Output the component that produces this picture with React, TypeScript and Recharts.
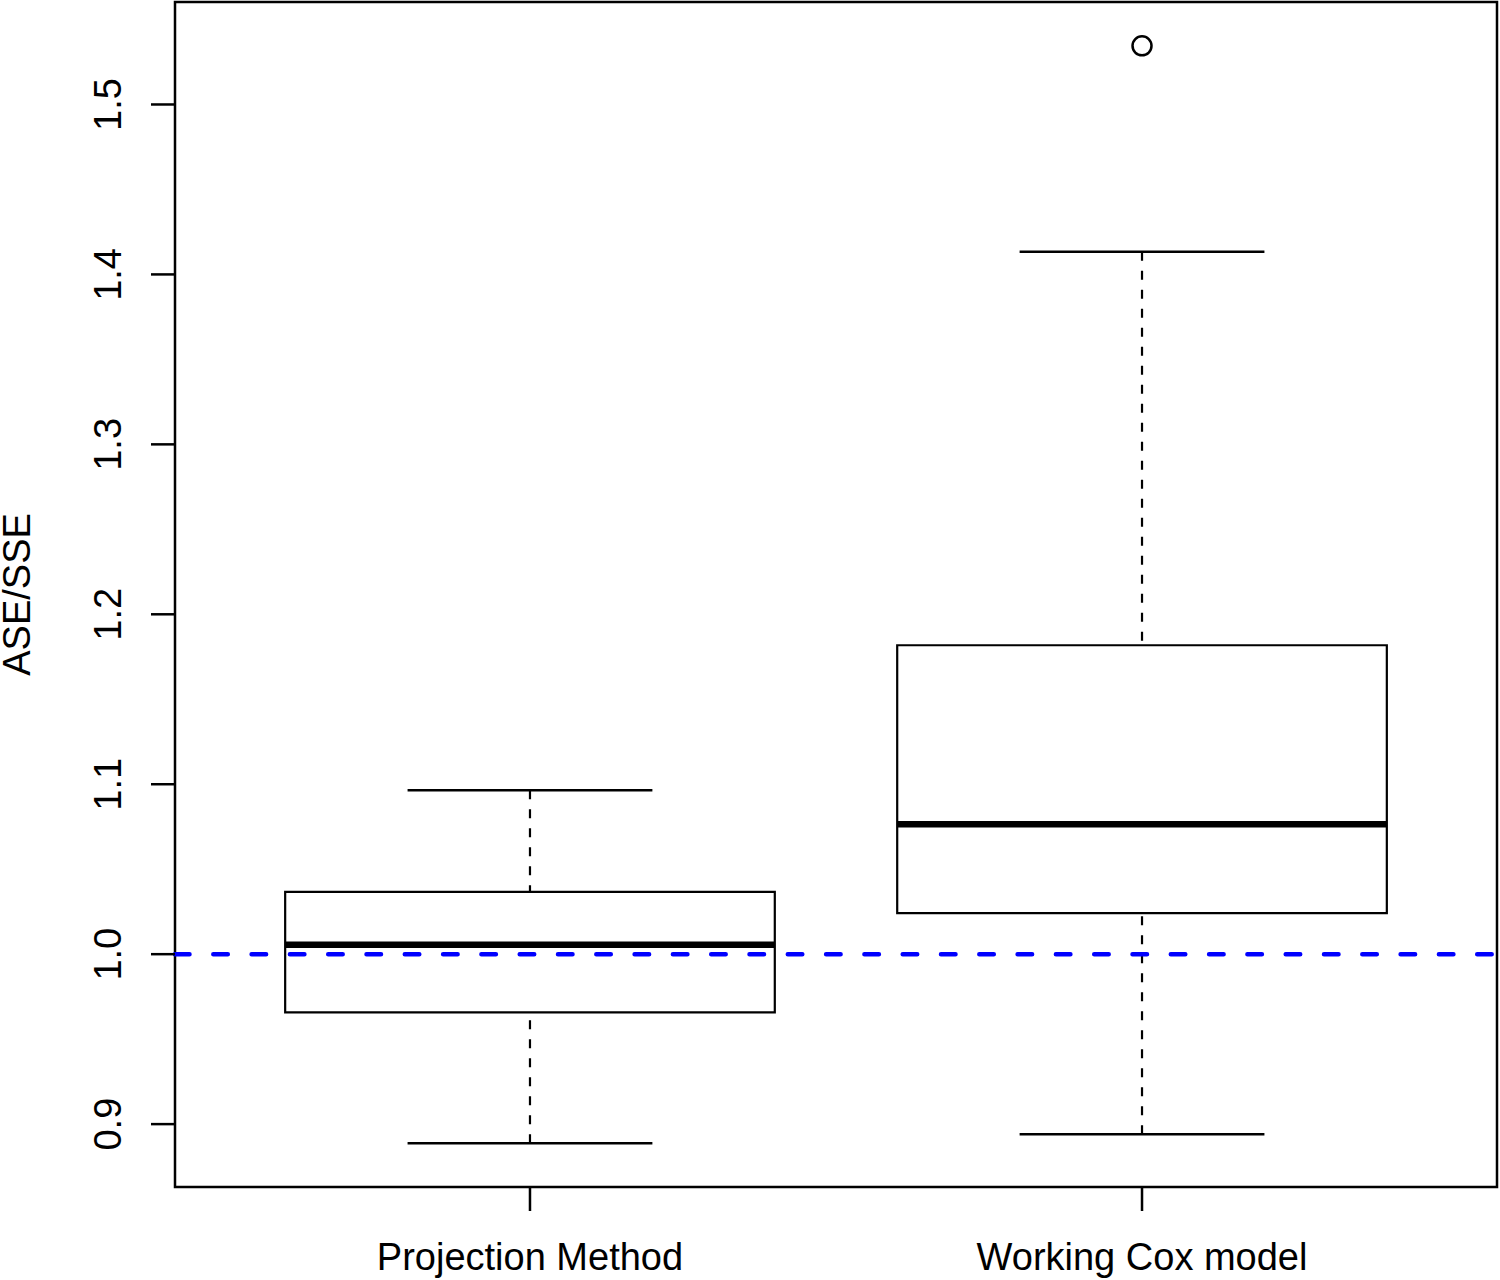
import React from "react";
import {
  ComposedChart,
  XAxis,
  YAxis,
  Scatter,
  ReferenceArea,
  ReferenceLine,
  Label,
} from "recharts";

const categories = ["Projection Method", "Working Cox model"];
const whiskerLow = [0.8888, 0.8941];
const lowerHinge = [0.9657, 1.0241];
const medians = [1.0056, 1.0765];
const upperHinge = [1.0367, 1.1818];
const whiskerHigh = [1.0965, 1.4133];
const outliers = [[], [1.5345]];
const yTicks = [0.9, 1.0, 1.1, 1.2, 1.3, 1.4, 1.5];

const xDomain: [number, number] = [0.42, 2.58];
const yDomain: [number, number] = [0.863, 1.5603];
const font = "'Liberation Sans', Arial, Helvetica, sans-serif";

const outlierPoints = outliers.flatMap((vals, i) =>
  vals.map((v) => ({ x: i + 1, y: v }))
);

const XTick = (props: any) => {
  const { x, y, payload } = props;
  return (
    <text
      x={x}
      y={y + 59}
      textAnchor="middle"
      fontSize={38}
      fontFamily={font}
      fill="#000"
    >
      {categories[payload.value - 1]}
    </text>
  );
};

const YTick = (props: any) => {
  const { x, y, payload } = props;
  const bx = x - 30;
  return (
    <text
      x={bx}
      y={y}
      transform={`rotate(-90 ${bx} ${y})`}
      textAnchor="middle"
      fontSize={38}
      fontFamily={font}
      fill="#000"
    >
      {payload.value.toFixed(1)}
    </text>
  );
};

const YLabel = (props: any) => {
  const { viewBox } = props;
  const cy = viewBox.y + viewBox.height / 2;
  return (
    <text
      x={30}
      y={cy}
      transform={`rotate(-90 30 ${cy})`}
      textAnchor="middle"
      fontSize={38}
      fontFamily={font}
      fill="#000"
    >
      ASE/SSE
    </text>
  );
};

export default function App() {
  return (
    <div style={{ position: "absolute", top: 0, left: 0, background: "#fff" }}>
      <ComposedChart
        width={1500}
        height={1280}
        margin={{ top: 2, right: 3, bottom: 0, left: 0 }}
        data={outlierPoints}
      >
        <XAxis
          type="number"
          dataKey="x"
          domain={xDomain}
          ticks={[1, 2]}
          allowDataOverflow
          axisLine={false}
          tickLine={{ stroke: "#000", strokeWidth: 2.5 }}
          tickSize={24}
          tickMargin={0}
          height={93}
          tick={<XTick />}
        />
        <YAxis
          type="number"
          dataKey="y"
          domain={yDomain}
          ticks={yTicks}
          allowDataOverflow
          axisLine={false}
          tickLine={{ stroke: "#000", strokeWidth: 2.5 }}
          tickSize={24}
          tickMargin={0}
          width={175}
          tick={<YTick />}
        >
          <Label content={<YLabel />} />
        </YAxis>

        {categories.map((c, i) => {
          const pos = i + 1;
          return (
            <React.Fragment key={c}>
              <ReferenceArea
                x1={pos - 0.4}
                x2={pos + 0.4}
                y1={lowerHinge[i]}
                y2={upperHinge[i]}
                fill="none"
                fillOpacity={0}
                stroke="#000"
                strokeWidth={2.2}
              />
              <ReferenceLine
                segment={[
                  { x: pos, y: whiskerHigh[i] },
                  { x: pos, y: upperHinge[i] },
                ]}
                stroke="#000"
                strokeWidth={2.2}
                strokeDasharray="9 10"
              />
              <ReferenceLine
                segment={[
                  { x: pos, y: whiskerLow[i] },
                  { x: pos, y: lowerHinge[i] },
                ]}
                stroke="#000"
                strokeWidth={2.2}
                strokeDasharray="9 10"
              />
              <ReferenceLine
                segment={[
                  { x: pos - 0.2, y: whiskerHigh[i] },
                  { x: pos + 0.2, y: whiskerHigh[i] },
                ]}
                stroke="#000"
                strokeWidth={2.5}
              />
              <ReferenceLine
                segment={[
                  { x: pos - 0.2, y: whiskerLow[i] },
                  { x: pos + 0.2, y: whiskerLow[i] },
                ]}
                stroke="#000"
                strokeWidth={2.5}
              />
              <ReferenceLine
                segment={[
                  { x: pos - 0.4, y: medians[i] },
                  { x: pos + 0.4, y: medians[i] },
                ]}
                stroke="#000"
                strokeWidth={6.5}
              />
            </React.Fragment>
          );
        })}

        <Scatter
          dataKey="y"
          isAnimationActive={false}
          shape={(p: any) => (
            <circle
              cx={p.cx}
              cy={p.cy}
              r={9.5}
              fill="none"
              stroke="#000"
              strokeWidth={2.5}
            />
          )}
        />

        <ReferenceLine
          y={1.0}
          stroke="#0000FF"
          strokeWidth={4.5}
          strokeDasharray="14.5 23.8"
          strokeLinecap="round"
        />

        <ReferenceArea
          x1={xDomain[0]}
          x2={xDomain[1]}
          y1={yDomain[0]}
          y2={yDomain[1]}
          fill="none"
          fillOpacity={0}
          stroke="#000"
          strokeWidth={2.5}
        />
      </ComposedChart>
    </div>
  );
}
